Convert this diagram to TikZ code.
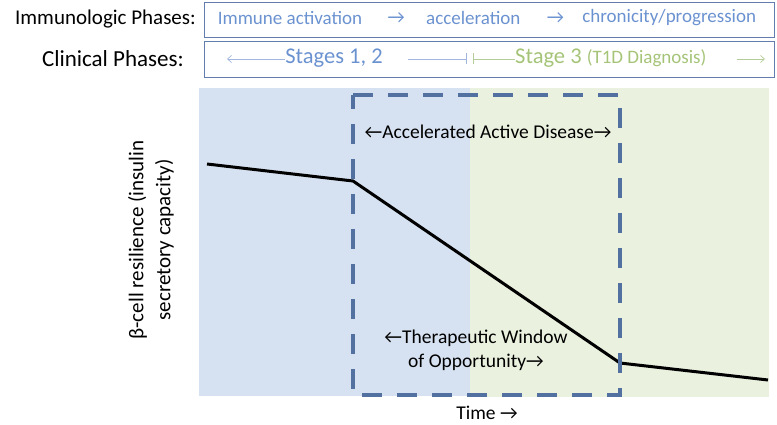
\documentclass[tikz,border=0pt]{standalone}
\usepackage{fontspec}
\setmainfont{Carlito}
\definecolor{boxblue}{RGB}{100,125,175}
\definecolor{textblue}{RGB}{107,146,208}
\definecolor{textgreen}{RGB}{165,196,120}
\definecolor{bgblue}{RGB}{214,226,241}
\definecolor{bggreen}{RGB}{234,241,222}
\definecolor{dashblue}{RGB}{82,112,160}
\definecolor{lineblue}{RGB}{160,182,220}
\definecolor{linegreen}{RGB}{182,204,155}
\usepackage{tikz}
\usetikzlibrary{positioning, arrows.meta, backgrounds, calc}

\begin{document}
\begin{tikzpicture}[x=1pt, y=-1pt,
		phaselab/.style = {anchor = east, inner sep = 0pt, font = \fontsize{21}{25}\selectfont},
		phasebox/.style = {draw = boxblue, line width = 0.8pt, inner sep = 0pt, anchor = north west, minimum width = 570pt},
		boxtext/.style = {inner sep = 0pt, color = textblue, font = \fontsize{19}{23}\selectfont},
		note/.style = {inner sep = 0pt, align = center, font = \fontsize{19.5}{24}\selectfont},
		thinline/.style = {line width = 0.7pt},
		thintip/.style = {-{Straight Barb[length = 4pt, width = 7pt]}}]
		\useasboundingbox (0,0) rectangle (777,425);
		% phase rows
		\node[phasebox, minimum height = 35pt] (immbox) at (204,2) {};
		\node[phasebox, minimum height = 36pt] (clinbox) at (204,41) {};
		\node[phaselab] (immlab) at (196,19) {Immunologic Phases:};
		\node[phaselab, font = \fontsize{23}{27}\selectfont] (clinlab) at (184,59) {Clinical Phases:};
		\node[boxtext] (immune) at (290,18) {Immune activation};
		\node[boxtext, right = 25pt of immune] (arrA) {→};
		\node[boxtext, right = 21pt of arrA] (accel) {acceleration};
		\node[boxtext, right = 26pt of accel] (arrB) {→};
		\node[boxtext, right = 18pt of arrB] (chron) {chronicity/progression};
		\node[inner sep = 0pt, color = textblue, font = \fontsize{22.5}{26}\selectfont] (stgA) at (334,58) {Stages 1, 2};
		\node[inner sep = 0pt, color = textgreen, font = \fontsize{22.5}{26}\selectfont, anchor = west] (stgB) at (515,58) {Stage 3 {\fontsize{19}{23}\selectfont(T1D Diagnosis)}};
		\coordinate (leftend) at (227,59);
		\coordinate (midstart) at (408,59);
		\coordinate (barA) at (467,59);
		\coordinate (barB) at (473,59);
		\coordinate (rightstart) at (737,59);
		\coordinate (rightend) at (765,59);
		\draw[thinline, thintip, lineblue] (stgA.west |- leftend) -- (leftend);
		\draw[thinline, lineblue, -{Bar[width = 11pt]}] (midstart) -- (barA);
		\draw[thinline, linegreen, {Bar[width = 11pt]}-] (barB) -- (stgB.west |- barB);
		\draw[thinline, thintip, linegreen] (rightstart) -- (rightend);
		% plot area
		\fill[bgblue] (199,88) rectangle (470,396);
		\fill[bggreen] (470,88) rectangle (769,397);
		\coordinate (p0) at (207,164);
		\coordinate (p1) at (353,181);
		\coordinate (p2) at (620,363);
		\coordinate (p3) at (768,380);
		\draw[line width = 3pt, line join = round] (p0) -- (p1) -- (p2) -- (p3);
		\draw[dashblue, line width = 4.5pt, dash pattern = on 20pt off 15pt] (353,95) -- (620,95) -- (620,395) -- (353,395) -- cycle;
		\node[note] (active) at (488,132) {←Accelerated Active Disease→};
		\node[note] (window) at (476,350) {←Therapeutic Window\\of Opportunity→};
		\node[note] (time) at (487,413) {Time →};
		\node[rotate = 90, inner sep = 0pt, align = center, font = \fontsize{21}{27}\selectfont] (ylab) at (151,240) {β-cell resilience (insulin\\secretory capacity)};
	\end{tikzpicture}
\end{document}
